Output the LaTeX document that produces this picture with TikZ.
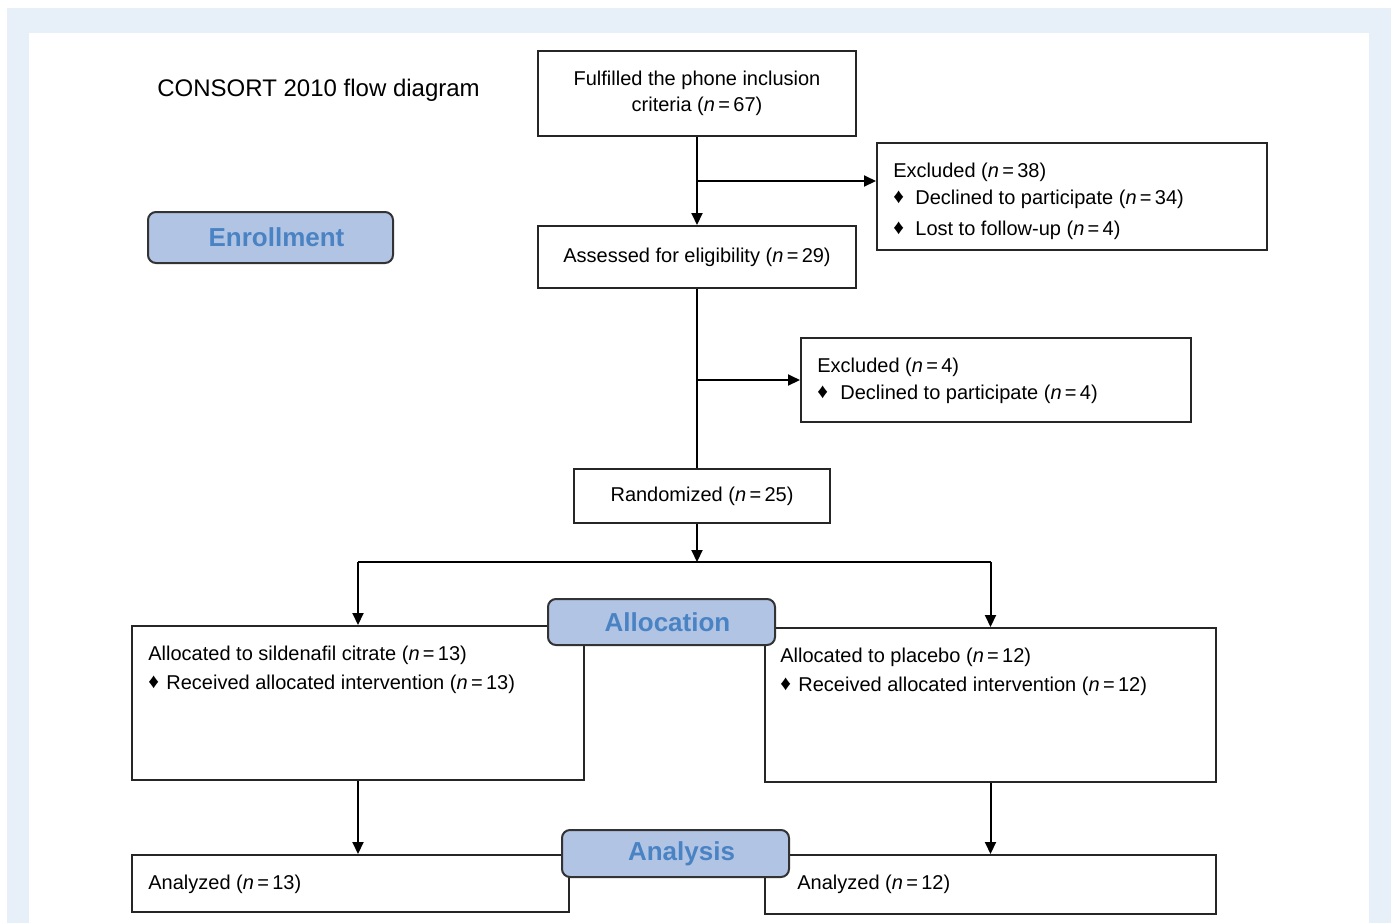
\documentclass[tikz,border=0pt]{standalone}
\usepackage{fontspec}
\setmainfont{Liberation Sans}
\usetikzlibrary{arrows.meta}

\definecolor{bgblue}{HTML}{E7EFF9}
\definecolor{phasefill}{HTML}{B1C4E4}
\definecolor{phasetext}{HTML}{4A83C4}

\newcommand{\nn}[1]{\textit{n}\,=\,#1}
\newcommand{\bul}[1][11pt]{\makebox[#1][l]{\raisebox{0.2pt}{\scalebox{1.05}{♦}}}}

\begin{document}
\begin{tikzpicture}[x=0.5pt, y=-0.5pt,
    box/.style={draw=black!85, line width=1pt, fill=white, inner sep=0pt, align=center,
        font=\fontsize{10}{13}\selectfont},
    phase/.style={draw=black!80, line width=1pt, fill=phasefill, rounded corners=4pt,
        text=phasetext, inner sep=0pt, font=\fontsize{13}{15}\selectfont\bfseries,
        execute at begin node={\hspace*{6pt}}},
    txt/.style={inner sep=0pt, anchor=west, yshift=-1pt, font=\fontsize{10}{12}\selectfont},
    arr/.style={-{Triangle[length=6pt, width=5.5pt]}, line width=1pt}]

    % Background
    \fill[bgblue] (7,8) rectangle (1391,923);
    \fill[white] (29,33) rectangle (1369,923);
    \useasboundingbox (0,0) rectangle (1393,923);

    \node[txt, font=\fontsize{12}{14}\selectfont] (title) at (157,88) {CONSORT 2010 flow diagram};

    % Boxes
    \node[box, minimum width=159pt, minimum height=42.5pt] (fulfil) at (697,93.5)
        {Fulfilled the phone inclusion\\criteria (\nn{67})};
    \node[box, minimum width=195pt, minimum height=53.5pt] (excl1) at (1072,196.5) {};
    \node[box, minimum width=159pt, minimum height=31pt] (assessed) at (697,257)
        {Assessed for eligibility (\nn{29})};
    \node[box, minimum width=195pt, minimum height=42pt] (excl2) at (996,380) {};
    \node[box, minimum width=128pt, minimum height=27pt] (random) at (702,496)
        {Randomized (\nn{25})};
    \node[box, minimum width=226pt, minimum height=77pt] (allocL) at (358,703) {};
    \node[box, minimum width=225.5pt, minimum height=77pt] (allocR) at (990.5,705) {};
    \node[box, minimum width=218.5pt, minimum height=28.5pt] (analL) at (350.5,883.5) {};
    \node[box, minimum width=225.5pt, minimum height=29.5pt] (analR) at (990.5,884.5) {};

    % Box texts
    \node[txt] (excl1a) at (893,170) {Excluded (\nn{38})};
    \node[txt] (excl1b) at (893,197) {\bul Declined to participate (\nn{34})};
    \node[txt] (excl1c) at (893,228) {\bul Lost to follow-up (\nn{4})};
    \node[txt] (excl2a) at (817,365) {Excluded (\nn{4})};
    \node[txt] (excl2b) at (817,392) {\bul[11.5pt]Declined to participate (\nn{4})};
    \node[txt] (allocLa) at (148,653) {Allocated to sildenafil citrate (\nn{13})};
    \node[txt] (allocLb) at (148,682) {\bul[9pt]Received allocated intervention (\nn{13})};
    \node[txt] (allocRa) at (780,655) {Allocated to placebo (\nn{12})};
    \node[txt] (allocRb) at (780,684) {\bul[9pt]Received allocated intervention (\nn{12})};
    \node[txt] (analLa) at (148,882) {Analyzed (\nn{13})};
    \node[txt] (analRa) at (797,882) {Analyzed (\nn{12})};

    % Connectors
    \coordinate (br1) at (697,181);
    \coordinate (split) at (697,562);
    \draw[arr] (fulfil.south) -- (assessed.north);
    \draw[arr] (br1) -- (br1 -| excl1.west);
    \draw[line width=1pt] (assessed.south) -- (assessed.south |- random.north);
    \draw[arr] (assessed.south |- excl2.west) -- (excl2.west);
    \draw[arr] (split |- random.south) -- (split);
    \draw[line width=1pt] (split -| allocL.north) -- (split -| allocR.north);
    \draw[arr] (split -| allocL.north) -- (allocL.north);
    \draw[arr] (split -| allocR.north) -- (allocR.north);
    \draw[arr] (allocL.south) -- (allocL.south |- analL.north);
    \draw[arr] (allocR.south) -- (analR.north);

    % Phase labels
    \node[phase, minimum width=122.5pt, minimum height=25.5pt] (enroll) at (270.5,237.5) {Enrollment};
    \node[phase, minimum width=113.5pt, minimum height=23pt] (alloc) at (661.5,622) {Allocation};
    \node[phase, minimum width=113.5pt, minimum height=23.5pt] (analysis) at (675.5,853.5) {Analysis};

\end{tikzpicture}
\end{document}
